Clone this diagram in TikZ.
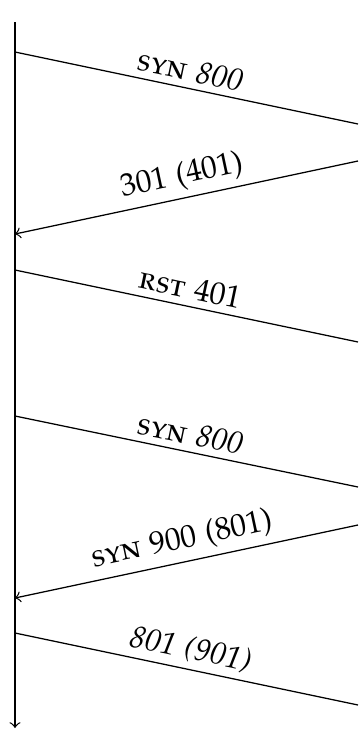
\documentclass[tikz,border=0pt]{standalone}
\usepackage[T1]{fontenc}
\usepackage[sc]{mathpazo}
\usepackage{tikz}
\usetikzlibrary{arrows,positioning}

\begin{document}
\begin{tikzpicture}[
  x=0.01117cm, y=-0.01117cm,
  timeline/.style={->, thin},
  msg/.style={thin},
  reply/.style={->, thin},
  lbl/.style={above, sloped, inner sep=2pt, font=\normalsize}
]
\useasboundingbox (0,0) rectangle (358,732);

% Time axis
\coordinate (top) at (15,22);
\coordinate (bot) at (15,728);
\draw[timeline] (top) -- (bot);

% Left ends
\coordinate (a1) at (15,52);
\coordinate (a2) at (15,234);
\coordinate (a3) at (15,270);
\coordinate (a4) at (15,416);
\coordinate (a5) at (15,598);
\coordinate (a6) at (15,633);

% Right ends
\coordinate (b1) at (358,124);
\coordinate (b2) at (358,161);
\coordinate (b3) at (358,342);
\coordinate (b4) at (358,487);
\coordinate (b5) at (358,525);
\coordinate (b6) at (358,705);

% Messages
\draw[msg] (a1) -- node[lbl] (l1) {\textsc{syn} \textit{800}} (b1);
\draw[reply] (b2) -- node[lbl] (l2) {301 (401)} (a2);
\draw[msg] (a3) -- node[lbl] (l3) {\textsc{rst} 401} (b3);

\draw[msg] (a4) -- node[lbl] (l4) {\textsc{syn} \textit{800}} (b4);
\draw[reply] (b5) -- node[lbl] (l5) {\textsc{syn} 900 (801)} (a5);
\draw[msg] (a6) -- node[lbl] (l6) {\textit{801 (901)}} (b6);

\end{tikzpicture}
\end{document}
